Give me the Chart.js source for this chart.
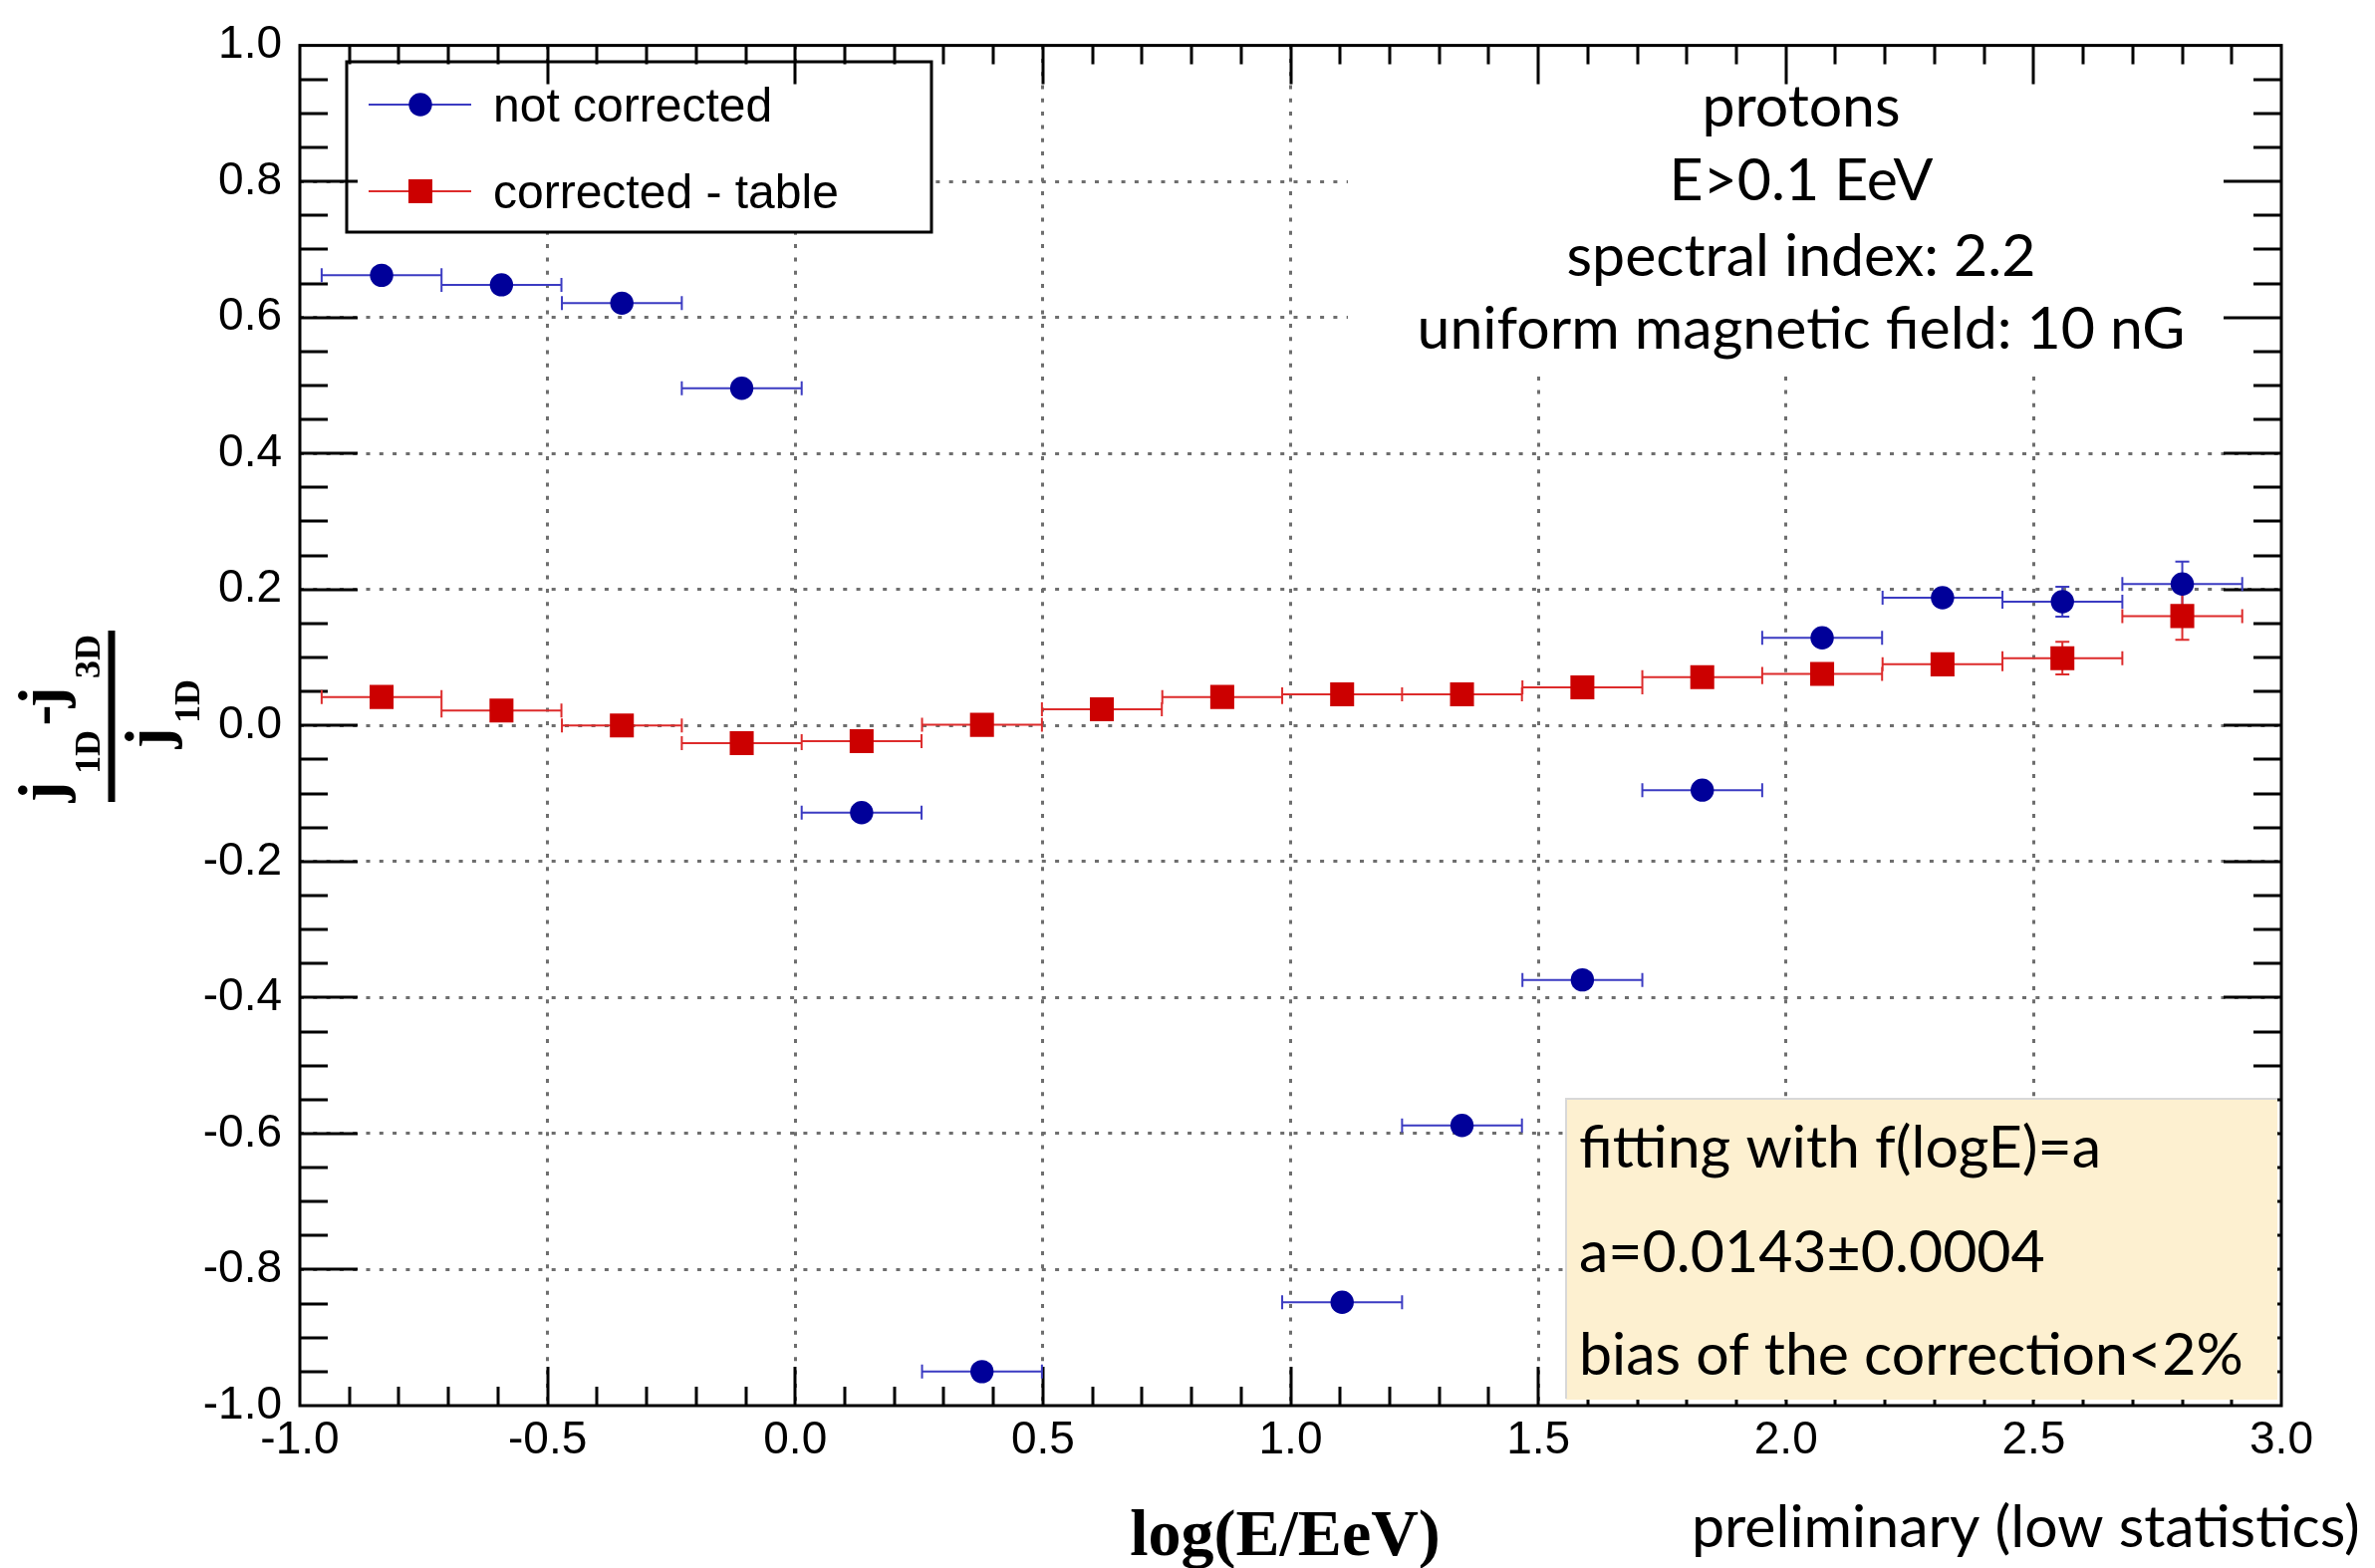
<!DOCTYPE html>
<html>
<head>
<meta charset="utf-8">
<script src="https://cdn.jsdelivr.net/npm/chart.js@4.4.1/dist/chart.umd.min.js"></script>
<style>
  html, body { margin: 0; padding: 0; background: #fff; }
  #grafico { display: block; }
</style>
</head>
<body>
<canvas id="grafico" width="2384" height="1574"></canvas>
<script>
// valores
const binCenters = [-0.835, -0.593, -0.350, -0.108, 0.134, 0.377, 0.619, 0.862,
                    1.104, 1.346, 1.589, 1.831, 2.073, 2.316, 2.558, 2.800];
const binHalfWidth = 0.121;

const notCorrected    = [0.662, 0.648, 0.621, 0.496, -0.128, -0.950, null, null,
                         -0.848, -0.588, -0.374, -0.095, 0.129, 0.188, 0.182, 0.208];
const notCorrectedErr = [0.004, 0.004, 0.004, 0.005, 0.006, 0.008, null, null,
                         0.009, 0.009, 0.010, 0.010, 0.012, 0.014, 0.022, 0.033];

const correctedTable    = [0.042, 0.022, 0.000, -0.026, -0.023, 0.001, 0.024, 0.042,
                           0.046, 0.046, 0.056, 0.071, 0.076, 0.090, 0.099, 0.161];
const correctedTableErr = [0.003, 0.003, 0.003, 0.004, 0.004, 0.005, 0.005, 0.006,
                           0.006, 0.007, 0.008, 0.009, 0.010, 0.012, 0.024, 0.035];

const xTickValues = [-1.0, -0.5, 0.0, 0.5, 1.0, 1.5, 2.0, 2.5, 3.0];
const yTickValues = [-1.0, -0.8, -0.6, -0.4, -0.2, 0.0, 0.2, 0.4, 0.6, 0.8, 1.0];

const seriesNames = ['not corrected', 'corrected - table'];
const infoLines = ['protons', 'E>0.1 EeV', 'spectral index: 2.2', 'uniform magnetic field: 10 nG'];
const fitLines = ['fitting with f(logE)=a', 'a=0.0143\u00b10.0004', 'bias of the correction<2%'];
const xTitle = 'log(E/EeV)';
const footNote = 'preliminary (low statistics)';

const AZUL = '#000099', AZUL_ERR = '#3b3bc2';
const VERMELHO = '#cc0000', VERMELHO_ERR = '#dd2b2b';
const TEXTO = '"Lato", "Open Sans", sans-serif';

function pontos(ys) {
  return binCenters.map((x, i) => ({ x, y: ys[i] })).filter(p => p.y !== null);
}

// caixas brancas que tapam a grade (legenda e texto do canto)
function caixasBrancas(ctx) {
  ctx.fillStyle = '#fff';
  ctx.fillRect(1353, 29, 934, 349);
  ctx.fillRect(348, 62, 587, 171);
  ctx.lineWidth = 3;
  ctx.strokeStyle = '#000';
  ctx.strokeRect(348, 62, 587, 171);
}

function legenda(chart) {
  const ctx = chart.ctx;
  const linhas = [105, 192];
  chart.data.datasets.forEach((ds, i) => {
    const y = linhas[i];
    ctx.strokeStyle = ds.errColor;
    ctx.lineWidth = 2;
    ctx.beginPath(); ctx.moveTo(370, y); ctx.lineTo(473, y); ctx.stroke();
    ctx.fillStyle = ds.backgroundColor;
    if (ds.pointStyle === 'rect') {
      ctx.fillRect(410, y - 12, 24, 24);
    } else {
      ctx.beginPath(); ctx.arc(422, y, ds.pointRadius, 0, Math.PI * 2); ctx.fill();
    }
    ctx.fillStyle = '#000';
    ctx.font = '48px "Liberation Sans", Arial, sans-serif';
    ctx.textAlign = 'left';
    ctx.textBaseline = 'alphabetic';
    ctx.fillText(ds.label, 495, y + 17);
  });
}

function textoCanto(ctx) {
  ctx.fillStyle = '#000';
  ctx.font = '59px ' + TEXTO;
  ctx.textAlign = 'center';
  ctx.textBaseline = 'alphabetic';
  const bases = [127, 201, 277, 350];
  infoLines.forEach((t, i) => ctx.fillText(t, 1808, bases[i]));
}

// marcas dos eixos, para dentro, nos quatro lados
function marcasEixos(chart) {
  const { ctx, chartArea: a, scales: { x, y } } = chart;
  ctx.save();
  ctx.strokeStyle = '#000';
  ctx.lineWidth = 3;
  ctx.beginPath();
  for (let k = -9; k < 30; k++) {
    const px = Math.round(x.getPixelForValue(k / 10));
    const len = (k % 5 === 0) ? 39 : 19;
    ctx.moveTo(px, a.bottom); ctx.lineTo(px, a.bottom - len);
    ctx.moveTo(px, a.top); ctx.lineTo(px, a.top + len);
  }
  for (let k = -19; k < 20; k++) {
    const py = Math.round(y.getPixelForValue(k * 0.05));
    const len = (k % 4 === 0) ? 58 : 28;
    ctx.moveTo(a.left, py); ctx.lineTo(a.left + len, py);
    ctx.moveTo(a.right, py); ctx.lineTo(a.right - len, py);
  }
  ctx.stroke();
  ctx.restore();
}

function barrasErro(chart) {
  const { ctx, chartArea: a, scales: { x, y } } = chart;
  ctx.save();
  ctx.beginPath();
  ctx.rect(a.left, a.top, a.right - a.left, a.bottom - a.top);
  ctx.clip();
  chart.data.datasets.forEach(ds => {
    ctx.strokeStyle = ds.errColor;
    ctx.lineWidth = 2;
    ctx.beginPath();
    binCenters.forEach((cx, i) => {
      const v = ds.valores[i];
      if (v === null) return;
      const py = y.getPixelForValue(v);
      const xl = x.getPixelForValue(cx - binHalfWidth);
      const xr = x.getPixelForValue(cx + binHalfWidth);
      const px = x.getPixelForValue(cx);
      ctx.moveTo(xl, py); ctx.lineTo(xr, py);
      ctx.moveTo(xl, py - 7); ctx.lineTo(xl, py + 7);
      ctx.moveTo(xr, py - 7); ctx.lineTo(xr, py + 7);
      const yt = y.getPixelForValue(v + ds.erros[i]);
      const yb = y.getPixelForValue(v - ds.erros[i]);
      if (py - yt > 13) {
        ctx.moveTo(px, yt); ctx.lineTo(px, yb);
        ctx.moveTo(px - 7, yt); ctx.lineTo(px + 7, yt);
        ctx.moveTo(px - 7, yb); ctx.lineTo(px + 7, yb);
      }
    });
    ctx.stroke();
  });
  ctx.restore();
}

function caixaAjuste(ctx) {
  ctx.fillStyle = '#fdf0d0';
  ctx.fillRect(1572, 1103, 714, 302);
  ctx.strokeStyle = '#d8d8d8';
  ctx.lineWidth = 2;
  ctx.beginPath();
  ctx.moveTo(1572, 1404); ctx.lineTo(1572, 1103); ctx.lineTo(2286, 1103);
  ctx.stroke();
  ctx.fillStyle = '#000';
  ctx.font = '59px ' + TEXTO;
  ctx.textAlign = 'left';
  ctx.textBaseline = 'alphabetic';
  const bases = [1172, 1277, 1380];
  fitLines.forEach((t, i) => ctx.fillText(t, 1585, bases[i]));
}

function moldura(chart) {
  const { ctx, chartArea: a } = chart;
  ctx.strokeStyle = '#000';
  ctx.lineWidth = 3;
  ctx.strokeRect(a.left, a.top, a.right - a.left, a.bottom - a.top);
}

function titulos(ctx) {
  ctx.fillStyle = '#000';
  ctx.textBaseline = 'alphabetic';
  ctx.textAlign = 'center';
  ctx.font = 'bold 66px "Liberation Serif", "Times New Roman", serif';
  ctx.fillText(xTitle, 1290, 1561);

  ctx.font = '59px ' + TEXTO;
  ctx.textAlign = 'left';
  ctx.fillText(footNote, 1698, 1553);

  // (j1D - j3D) / j1D, rodado
  const grande = 'bold 63px "Liberation Serif", serif';
  const pequeno = 'bold 36px "Liberation Serif", serif';
  ctx.save();
  ctx.translate(112, 719);
  ctx.rotate(-Math.PI / 2);
  ctx.fillRect(-86, -3.5, 172, 7);
  ctx.textAlign = 'center';
  const partes = [
    ['j', grande, -76, -50], ['1D', pequeno, -36, -12], ['-', grande, 1, -50],
    ['j', grande, 19, -50], ['3D', pequeno, 60, -12],
    ['j', grande, -22, 57], ['1D', pequeno, 15, 88]
  ];
  partes.forEach(([t, f, px, py]) => { ctx.font = f; ctx.fillText(t, px, py); });
  ctx.restore();
}

const decoracao = {
  id: 'decoracao',
  beforeDatasetsDraw(chart) {
    const ctx = chart.ctx;
    ctx.save();
    caixasBrancas(ctx);
    legenda(chart);
    textoCanto(ctx);
    ctx.restore();
    marcasEixos(chart);
    barrasErro(chart);
  },
  afterDatasetsDraw(chart) {
    const ctx = chart.ctx;
    ctx.save();
    caixaAjuste(ctx);
    moldura(chart);
    titulos(ctx);
    ctx.restore();
  }
};

const fonteEixo = { family: '"Liberation Sans", Arial, sans-serif', size: 46 };

new Chart(document.getElementById('grafico'), {
  type: 'scatter',
  data: {
    datasets: [
      {
        label: seriesNames[0],
        data: pontos(notCorrected),
        valores: notCorrected,
        erros: notCorrectedErr,
        errColor: AZUL_ERR,
        pointStyle: 'circle',
        pointRadius: 11.7,
        backgroundColor: AZUL,
        borderWidth: 0,
        showLine: false
      },
      {
        label: seriesNames[1],
        data: pontos(correctedTable),
        valores: correctedTable,
        erros: correctedTableErr,
        errColor: VERMELHO_ERR,
        pointStyle: 'rect',
        pointRadius: 17,
        backgroundColor: VERMELHO,
        borderWidth: 0,
        showLine: false
      }
    ]
  },
  options: {
    responsive: false,
    animation: false,
    devicePixelRatio: 1,
    events: [],
    layout: { padding: { left: 0, top: 27, right: 94, bottom: 0 } },
    plugins: { legend: { display: false }, tooltip: { enabled: false }, title: { display: false } },
    scales: {
      x: {
        type: 'linear',
        min: -1, max: 3,
        afterBuildTicks: s => { s.ticks = xTickValues.map(v => ({ value: v })); },
        afterFit: s => { s.height = 163; },
        ticks: {
          autoSkip: false, maxRotation: 0, padding: 8, color: '#000', font: fonteEixo,
          callback: v => Number(v).toFixed(1)
        },
        grid: {
          drawTicks: false, lineWidth: 3,
          color: c => (c.tick && (c.tick.value <= -1 || c.tick.value >= 3)) ? 'rgba(0,0,0,0)' : '#6e6e6e'
        },
        border: { display: false, dash: [4, 9.3] }
      },
      y: {
        type: 'linear',
        min: -1, max: 1,
        afterBuildTicks: s => { s.ticks = yTickValues.map(v => ({ value: v })); },
        afterFit: s => { s.width = 301; },
        ticks: {
          autoSkip: false, padding: 18, color: '#000', font: fonteEixo,
          callback: v => Number(v).toFixed(1)
        },
        grid: {
          drawTicks: false, lineWidth: 3,
          color: c => (c.tick && (c.tick.value <= -1 || c.tick.value >= 1)) ? 'rgba(0,0,0,0)' : '#6e6e6e'
        },
        border: { display: false, dash: [4, 9.3] }
      }
    }
  },
  plugins: [decoracao]
});
</script>
</body>
</html>
